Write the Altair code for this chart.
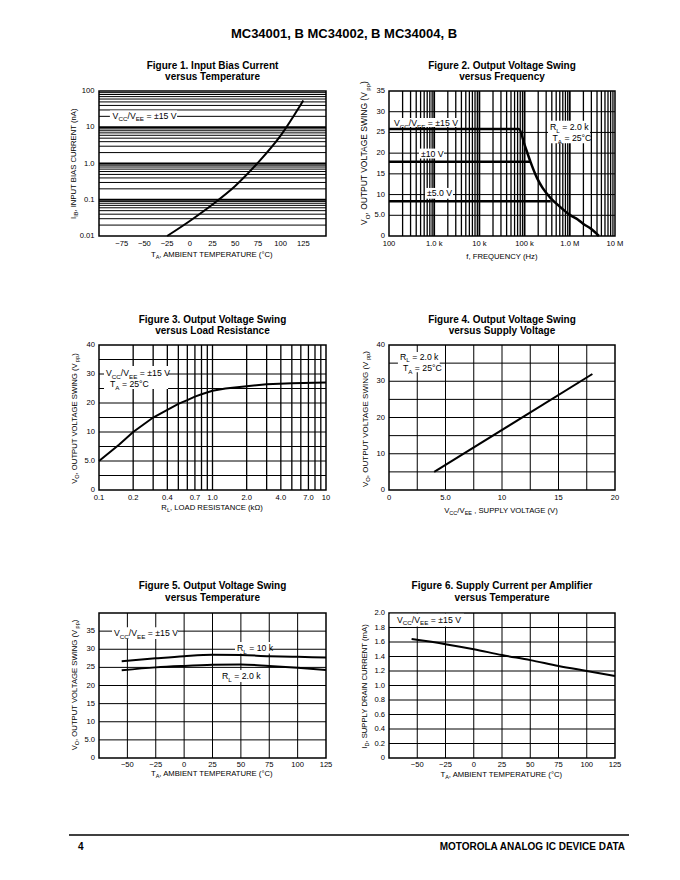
import altair as alt
import pandas as pd

FONT = "Liberation Sans"
BOLD = "Liberation Sans"
SUB = 0.72
ANN = 8.7      # annotation text size
AXT = 7.7      # axis title size
TICK = 7.6     # tick label size

# ---------------- data ----------------
fig1_temp = [-25, 0, 25, 50, 75, 100, 125]
fig1_ib = [0.010, 0.026, 0.074, 0.24, 1.05, 5.9, 55.0]
fig1_xticks = [-75, -50, -25, 0, 25, 50, 75, 100, 125]
fig1_xlabels = ["\u221275", "\u221250", "\u221225", "0", "25", "50", "75", "100", "125"]
fig1_yticks = [0.01, 0.1, 1, 10, 100]
fig1_ylabels = ["0.01", "0.1", "1.0", "10", "100"]

fig2_f15 = [100, 75e3, 100e3, 135e3, 190e3, 250e3, 380e3, 600e3, 1e6, 1.5e6, 2e6, 3e6, 4.4e6]
fig2_v15 = [25.8, 25.8, 22.0, 17.9, 13.9, 11.6, 9.1, 7.1, 5.1, 4.0, 2.9, 1.7, 0.0]
fig2_f10 = [100, 135e3]
fig2_v10 = [17.9, 17.9]
fig2_f5 = [100, 380e3]
fig2_v5 = [8.4, 8.4]
fig2_xticks = [1e2, 1e3, 1e4, 1e5, 1e6, 1e7]
fig2_xlabels = ["100", "1.0 k", "10 k", "100 k", "1.0 M", "10 M"]
fig2_yticks = [0, 5, 10, 15, 20, 25, 30, 35]
fig2_ylabels = ["0", "5.0", "10", "15", "20", "25", "30", "35"]

fig3_rl = [0.1, 0.15, 0.2, 0.3, 0.4, 0.5, 0.6, 0.7, 0.8, 1.0, 1.3, 2.0, 3.0, 5.0, 10.0]
fig3_vo = [5.0, 7.8, 10.0, 15.0, 17.6, 19.7, 21.0, 22.2, 23.0, 24.2, 25.0, 25.8, 26.5, 26.8, 27.1]
fig3_xticks = [0.1, 0.2, 0.4, 0.7, 1.0, 2.0, 4.0, 7.0, 10.0]
fig3_xlabels = ["0.1", "0.2", "0.4", "0.7", "1.0", "2.0", "4.0", "7.0", "10"]
fig3_yticks = [0, 5, 10, 20, 30, 40]
fig3_ylabels = ["0", "5.0", "10", "20", "30", "40"]

fig4_vs = [4.0, 18.0]
fig4_vo = [5.0, 32.0]
fig4_xticks = [0, 5, 10, 15, 20]
fig4_xlabels = ["0", "5.0", "10", "15", "20"]
fig4_yticks = [0, 10, 20, 30, 40]
fig4_ylabels = ["0", "10", "20", "30", "40"]

fig5_temp = [-55, -25, 0, 25, 50, 75, 100, 125]
fig5_10k = [26.7, 27.5, 28.1, 28.5, 28.4, 28.1, 27.9, 27.7]
fig5_2k = [24.2, 25.0, 25.4, 25.7, 25.8, 25.4, 24.9, 24.3]
temp_xticks = [-50, -25, 0, 25, 50, 75, 100, 125]
temp_xlabels = ["\u221250", "\u221225", "0", "25", "50", "75", "100", "125"]
fig5_yticks = [0, 5, 10, 15, 20, 25, 30, 35]
fig5_ylabels = ["0", "5.0", "10", "15", "20", "25", "30", "35"]

fig6_temp = [-55, -25, 0, 25, 50, 75, 100, 125]
fig6_id = [1.64, 1.57, 1.50, 1.42, 1.35, 1.27, 1.20, 1.13]
fig6_yticks = [0, 0.2, 0.4, 0.6, 0.8, 1.0, 1.2, 1.4, 1.6, 1.8, 2.0]
fig6_ylabels = ["0", "0.2", "0.4", "0.6", "0.8", "1.0", "1.2", "1.4", "1.6", "1.8", "2.0"]

ONE = pd.DataFrame({"k": [0]})

# ---------------- helpers ----------------
W = {c: 556 for c in "0123456789"}
W.update(dict(zip("ABCDEFGHIJKLMNOPQRSTUVWXYZ",
                  [667, 667, 722, 722, 667, 611, 778, 722, 278, 500, 667, 556, 833,
                   722, 778, 667, 778, 722, 667, 611, 722, 667, 944, 667, 667, 611])))
W.update(dict(zip("abcdefghijklmnopqrstuvwxyz",
                  [556, 556, 500, 556, 556, 278, 556, 556, 222, 222, 500, 222, 833,
                   556, 556, 556, 556, 333, 500, 278, 556, 500, 722, 500, 500, 500])))
W.update({" ": 278, ",": 278, ".": 278, "/": 278, "(": 333, ")": 333, "=": 584,
          "\u00b1": 584, "\u00b0": 400, "\u03a9": 768, "\u2212": 584, "-": 333})


def tw(s, size):
    return sum(W.get(c, 556) for c in s) / 1000.0 * size


def enc_xy(x, y, xs, ys):
    ex = alt.value(x) if xs is None else alt.XDatum(x, scale=xs, axis=None)
    ey = alt.value(y) if ys is None else alt.YDatum(y, scale=ys, axis=None)
    return ex, ey


def rich(pieces, x, y, size=ANN, align="left", angle=0, vcenter=True, xs=None, ys=None):
    widths = [tw(s, size * SUB if sub else size) for s, sub in pieces]
    total = sum(widths)
    off = 0.0 if align == "left" else (-total / 2 if align == "center" else -total)
    base = size * 0.36 if vcenter else 0.0
    out = []
    ex, ey = enc_xy(x, y, xs, ys)
    for (s, sub), wd in zip(pieces, widths):
        fs = size * SUB if sub else size
        lead = len(s) - len(s.lstrip(" "))
        core = s.strip(" ")
        if core:
            out.append(alt.Chart(ONE).mark_text(
                text=core, align="left", baseline="alphabetic",
                dx=off + tw(" " * lead, fs), dy=base + (size * 0.3 if sub else 0.0),
                angle=angle, font=FONT, fontSize=fs, color="black").encode(x=ex, y=ey))
        off += wd
    return out


def box(x1, x2, y1, y2, xs, ys):
    return alt.Chart(ONE).mark_rect(color="white").encode(
        x=alt.XDatum(x1, scale=xs, axis=None), x2=alt.X2Datum(x2),
        y=alt.YDatum(y1, scale=ys, axis=None), y2=alt.Y2Datum(y2))


def hgrid(vals, ys, sw=1.0):
    return alt.Chart(pd.DataFrame({"v": vals})).mark_rule(color="black", strokeWidth=sw).encode(
        y=alt.Y("v:Q", scale=ys, axis=None))


def vgrid(vals, xs, sw=1.0):
    return alt.Chart(pd.DataFrame({"v": vals})).mark_rule(color="black", strokeWidth=sw).encode(
        x=alt.X("v:Q", scale=xs, axis=None))


def xlabels(vals, labs, xs, dy):
    df = pd.DataFrame({"v": vals, "l": labs})
    return alt.Chart(df).mark_text(font=FONT, fontSize=TICK, align="center", baseline="middle",
                                   color="black").encode(
        x=alt.X("v:Q", scale=xs, axis=None), y=alt.value(H + dy), text="l:N")


def ylabels(vals, labs, ys, dx=-4):
    df = pd.DataFrame({"v": vals, "l": labs})
    return alt.Chart(df).mark_text(font=FONT, fontSize=TICK, align="right", baseline="middle",
                                   color="black").encode(
        y=alt.Y("v:Q", scale=ys, axis=None), x=alt.value(dx), text="l:N")


def anchor(x, y):
    # invisible layout anchor (keeps the panels at fixed places on the page)
    return alt.Chart(ONE).mark_rule(strokeOpacity=0, color="white").encode(
        x=alt.value(x), x2=alt.value(x + 1), y=alt.value(y))


def ftitle(l1, l2, w, y1, y2):
    return [alt.Chart(ONE).mark_text(text=t, font=BOLD, fontSize=10, fontWeight="bold",
                                     align="center", baseline="alphabetic", color="black"
                                     ).encode(x=alt.value(w / 2), y=alt.value(yy))
            for t, yy in ((l1, y1), (l2, y2))]


def line(xv, yv, xs, ys, sw=2.0, interp="linear"):
    df = pd.DataFrame({"x": xv, "y": yv})
    return alt.Chart(df).mark_line(color="black", strokeWidth=sw, interpolate=interp).encode(
        x=alt.X("x:Q", scale=xs, axis=None), y=alt.Y("y:Q", scale=ys, axis=None))


VCC = [("V", 0), ("CC", 1), ("/V", 0), ("EE", 1), (" = \u00b115 V", 0)]
TA_T = [("T", 0), ("A", 1), (", AMBIENT TEMPERATURE (\u00b0C)", 0)]
VO_T = [("V", 0), ("O", 1), (", OUTPUT VOLTAGE SWING (V", 0), ("pp", 1), (")", 0)]
RL2 = [("R", 0), ("L", 1), (" = 2.0 k", 0)]
TA25 = [("T", 0), ("A", 1), (" = 25\u00b0C", 0)]

WL, WR, H = 227, 226, 145

# ---------------- Figure 1 ----------------
xs1 = alt.Scale(domain=[-100, 150], nice=False, zero=False)
ys1 = alt.Scale(type="log", domain=[0.01, 100], nice=False)
f1_minor = [m * 10.0 ** e for e in range(-2, 2) for m in range(2, 10)]
f1 = alt.layer(
    anchor(-90, -82), anchor(-90, H + 56.5),
    hgrid(f1_minor, ys1, 1.0),
    hgrid([0.1, 1, 10], ys1, 2.2),
    box(-88, -14, 29, 14.8, xs1, ys1),
    line(fig1_temp, fig1_ib, xs1, ys1, 2.0, "monotone"),
    xlabels(fig1_xticks, fig1_xlabels, xs1, 7.5),
    ylabels(fig1_yticks, fig1_ylabels, ys1, -4.5),
    *rich(VCC, -85, 21, xs=xs1, ys=ys1),
    *rich(TA_T, WL / 2, H + 21, AXT, align="center", vcenter=False),
    *rich([("I", 0), ("IB", 1), (", INPUT BIAS CURRENT (nA)", 0)], -23, H / 2, AXT,
          align="center", angle=270, vcenter=False),
    *ftitle("Figure 1. Input Bias Current", "versus Temperature", WL, -22.5, -11.5),
    alt.Chart(ONE).mark_text(text="MC34001, B MC34002, B MC34004, B", font=BOLD, fontSize=13,
                             fontWeight="bold", align="center", baseline="alphabetic",
                             color="black").encode(x=alt.value(245), y=alt.value(-53)),
).properties(width=WL, height=H)

# ---------------- Figure 2 ----------------
xs2 = alt.Scale(type="log", domain=[100, 1e7], nice=False)
ys2 = alt.Scale(domain=[0, 35], nice=False, zero=False)
f2_minor = [m * 10.0 ** e for e in range(2, 7) for m in range(2, 10)]
f2 = alt.layer(
    vgrid(f2_minor, xs2, 1.3),
    vgrid([1e3, 1e4, 1e5, 1e6], xs2, 1.8),
    hgrid([5, 10, 15, 20, 25, 30], ys2, 1.0),
    box(116, 3365, 28.5, 26.3, xs2, ys2),
    box(461, 1648, 21.1, 18.7, xs2, ys2),
    box(625, 2606, 11.6, 9.0, xs2, ys2),
    box(329.6e3, 2.8e6, 27.8, 22.4, xs2, ys2),
    line(fig2_f15, fig2_v15, xs2, ys2, 2.5, "monotone"),
    line(fig2_f10, fig2_v10, xs2, ys2, 2.5),
    line(fig2_f5, fig2_v5, xs2, ys2, 2.5),
    xlabels(fig2_xticks, fig2_xlabels, xs2, 8),
    ylabels(fig2_yticks, fig2_ylabels, ys2, -4),
    *rich(VCC, 129, 27.3, xs=xs2, ys=ys2),
    *rich([("\u00b110 V", 0)], 511, 19.9, xs=xs2, ys=ys2),
    *rich([("\u00b15.0 V", 0)], 692, 10.3, xs=xs2, ys=ys2),
    *rich(RL2, 364.8e3, 26.3, xs=xs2, ys=ys2),
    *rich(TA25, 414e3, 23.7, xs=xs2, ys=ys2),
    *rich([("f, FREQUENCY (Hz)", 0)], WR / 2, H + 22.5, AXT, align="center", vcenter=False),
    *rich(VO_T, -22, 62, AXT * 1.1, align="center", angle=270, vcenter=False),
    *ftitle("Figure 2. Output Voltage Swing", "versus Frequency", WR, -22.5, -11.5),
).properties(width=WR, height=H)

# ---------------- Figure 3 ----------------
xs3 = alt.Scale(type="log", domain=[0.1, 10], nice=False)
ys3 = alt.Scale(domain=[0, 10, 40], range=[H, H * 0.6, 0], nice=False, zero=False)
f3_minor = [m * 10.0 ** e for e in (-1, 0) for m in range(2, 10)] + [1.0]
f3 = alt.layer(
    anchor(-90, -50), anchor(-90, H + 60),
    vgrid(f3_minor, xs3, 1.3),
    hgrid([2.5, 5, 7.5, 10, 15, 20, 25, 30, 35], ys3, 1.0),
    box(0.1107, 0.406, 32.8, 24.8, xs3, ys3),
    line(fig3_rl, fig3_vo, xs3, ys3, 2.0),
    xlabels(fig3_xticks, fig3_xlabels, xs3, 8),
    ylabels(fig3_yticks, fig3_ylabels, ys3, -4),
    *rich(VCC, 0.1153, 30.4, xs=xs3, ys=ys3),
    *rich(TA25, 0.125, 26.6, xs=xs3, ys=ys3),
    *rich([("R", 0), ("L", 1), (", LOAD RESISTANCE (k\u03a9)", 0)], WL / 2, H + 20, AXT,
          align="center", vcenter=False),
    *rich(VO_T, -22, H / 2 + 1, AXT, align="center", angle=270, vcenter=False),
    *ftitle("Figure 3. Output Voltage Swing", "versus Load Resistance", WL, -22.5, -11.5),
).properties(width=WL, height=H)

# ---------------- Figure 4 ----------------
xs4 = alt.Scale(domain=[0, 20], nice=False, zero=False)
ys4 = alt.Scale(domain=[0, 40], nice=False, zero=False)
f4 = alt.layer(
    vgrid([2.5, 5, 7.5, 10, 12.5, 15, 17.5], xs4, 1.0),
    hgrid([5, 10, 15, 20, 25, 30, 35], ys4, 1.0),
    box(0.79, 4.49, 38.1, 32.5, xs4, ys4),
    line(fig4_vs, fig4_vo, xs4, ys4, 2.0),
    xlabels(fig4_xticks, fig4_xlabels, xs4, 7.5),
    ylabels(fig4_yticks, fig4_ylabels, ys4, -4),
    *rich(RL2, 0.97, 36.8, xs=xs4, ys=ys4),
    *rich(TA25, 1.23, 33.7, xs=xs4, ys=ys4),
    *rich([("V", 0), ("CC", 1), ("/V", 0), ("EE", 1), (" , SUPPLY VOLTAGE (V)", 0)],
          WR / 2, H + 23, AXT, align="center", vcenter=False),
    *rich(VO_T, -21, 74, AXT * 1.04, align="center", angle=270, vcenter=False),
    *ftitle("Figure 4. Output Voltage Swing", "versus Supply Voltage", WR, -22.5, -11.5),
).properties(width=WR, height=H)

# ---------------- Figure 5 ----------------
xs5 = alt.Scale(domain=[-75, 125], nice=False, zero=False)
ys5 = alt.Scale(domain=[0, 40], nice=False, zero=False)
f5 = alt.layer(
    anchor(-90, -61),
    vgrid([-50, -25, 0, 25, 50, 75, 100], xs5, 1.0),
    hgrid([5, 10, 15, 20, 25, 30, 35], ys5, 1.0),
    box(-63.5, -5.4, 36.1, 32.8, xs5, ys5),
    box(44.8, 75.7, 32.0, 28.8, xs5, ys5),
    box(31.6, 64.2, 24.3, 21.0, xs5, ys5),
    line(fig5_temp, fig5_10k, xs5, ys5, 2.0, "monotone"),
    line(fig5_temp, fig5_2k, xs5, ys5, 2.0, "monotone"),
    xlabels(temp_xticks, temp_xlabels, xs5, 7),
    ylabels(fig5_yticks, fig5_ylabels, ys5, -4),
    *rich(VCC, -61.8, 34.5, xs=xs5, ys=ys5),
    *rich([("R", 0), ("L", 1), (" = 10 k", 0)], 46.6, 30.3, xs=xs5, ys=ys5),
    *rich(RL2, 33.4, 22.6, xs=xs5, ys=ys5),
    *rich(TA_T, WL / 2, H + 18, AXT, align="center", vcenter=False),
    *rich(VO_T, -22, 72, AXT, align="center", angle=270, vcenter=False),
    *ftitle("Figure 5. Output Voltage Swing", "versus Temperature", WL, -24, -12.5),
    alt.Chart(ONE).mark_rule(color="black", strokeWidth=1.5).encode(
        x=alt.value(-30), x2=alt.value(530), y=alt.value(222)),
    alt.Chart(ONE).mark_text(text="4", font=BOLD, fontSize=10, fontWeight="bold", align="left",
                             baseline="alphabetic", color="black").encode(
        x=alt.value(-21), y=alt.value(237)),
    alt.Chart(ONE).mark_text(text="MOTOROLA ANALOG IC DEVICE DATA", font=BOLD, fontSize=10,
                             fontWeight="bold", align="right", baseline="alphabetic",
                             color="black").encode(x=alt.value(526), y=alt.value(237)),
).properties(width=WL, height=H)

# ---------------- Figure 6 ----------------
xs6 = alt.Scale(domain=[-75, 125], nice=False, zero=False)
ys6 = alt.Scale(domain=[0, 2], nice=False, zero=False)
f6 = alt.layer(
    vgrid([-50, -25, 0, 25, 50, 75, 100], xs6, 1.0),
    hgrid([0.2, 0.4, 0.6, 0.8, 1.0, 1.2, 1.4, 1.6, 1.8], ys6, 1.0),
    box(-74.3, -8.6, 1.99, 1.815, xs6, ys6),
    line(fig6_temp, fig6_id, xs6, ys6, 2.0, "monotone"),
    xlabels(temp_xticks, temp_xlabels, xs6, 7),
    ylabels(fig6_yticks, fig6_ylabels, ys6, -4),
    *rich(VCC, -67.9, 1.908, xs=xs6, ys=ys6),
    *rich(TA_T, WR / 2, H + 18.5, AXT, align="center", vcenter=False),
    *rich([("I", 0), ("D", 1), (", SUPPLY DRAIN CURRENT (mA)", 0)], -22, 73, AXT,
          align="center", angle=270, vcenter=False),
    *ftitle("Figure 6. Supply Current per Amplifier", "versus Temperature", WR, -24, -12.5),
).properties(width=WR, height=H)

row1 = alt.hconcat(f1, f2, spacing=63, bounds="flush")
row2 = alt.hconcat(f3, f4, spacing=63, bounds="flush")
row3 = alt.hconcat(f5, f6, spacing=63, bounds="flush")
chart = alt.vconcat(row1, row2, row3, spacing=0, bounds="full").properties(padding=0)
chart = chart.configure_view(stroke="black", strokeWidth=1.5)

chart.save("out.html", embed_options={"renderer": "svg", "actions": False})
